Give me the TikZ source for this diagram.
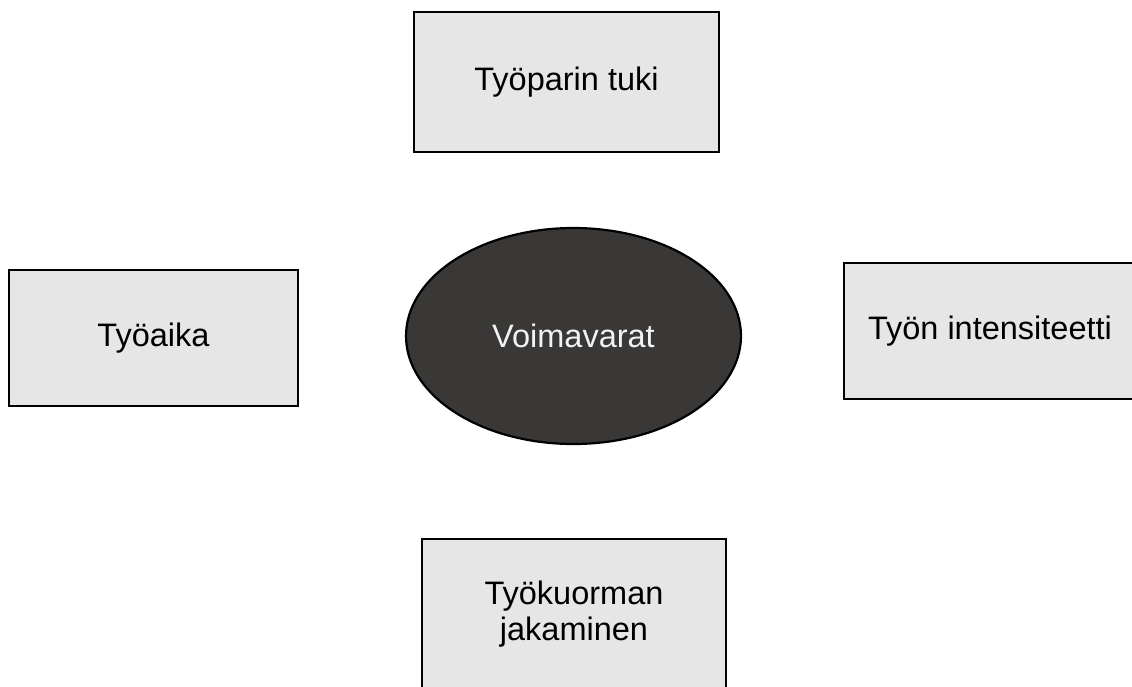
\documentclass[tikz,border=0pt]{standalone}
\usepackage{fontspec}
\setmainfont{Liberation Sans}
\usetikzlibrary{shapes.geometric}
\definecolor{boxfill}{RGB}{230,230,230}
\definecolor{corefill}{RGB}{58,56,55}
\definecolor{coretext}{RGB}{242,242,242}
\tikzset{
  factor/.style={draw=black, line width=2.8pt, fill=boxfill, inner sep=0pt,
    align=center, font=\fontsize{32.5}{36}\selectfont, text=black},
  core/.style={ellipse, draw=black, line width=2.2pt, fill=corefill, inner sep=0pt,
    font=\fontsize{32.5}{36}\selectfont, text=coretext}
}
\begin{document}
\begin{tikzpicture}[x=1pt, y=-1pt]
  \useasboundingbox (0,0) rectangle (1132,686);
  % central resource ellipse
  \node[core, minimum width=335pt, minimum height=216pt] (voima) at (573.5,336) {Voimavarat};
  % surrounding factors
  \node[factor, minimum width=305pt, minimum height=140pt] (tuki) at (566.5,82) {Työparin tuki};
  \node[factor, minimum width=289pt, minimum height=136pt] (aika) at (153.5,338) {Työaika};
  \node[factor, minimum width=292pt, minimum height=136pt] (intens) at (990,331) {Työn intensiteetti};
  \node[factor, minimum width=304pt, minimum height=150pt] (kuorma) at (574,614) {Työkuorman\\jakaminen};
\end{tikzpicture}
\end{document}
